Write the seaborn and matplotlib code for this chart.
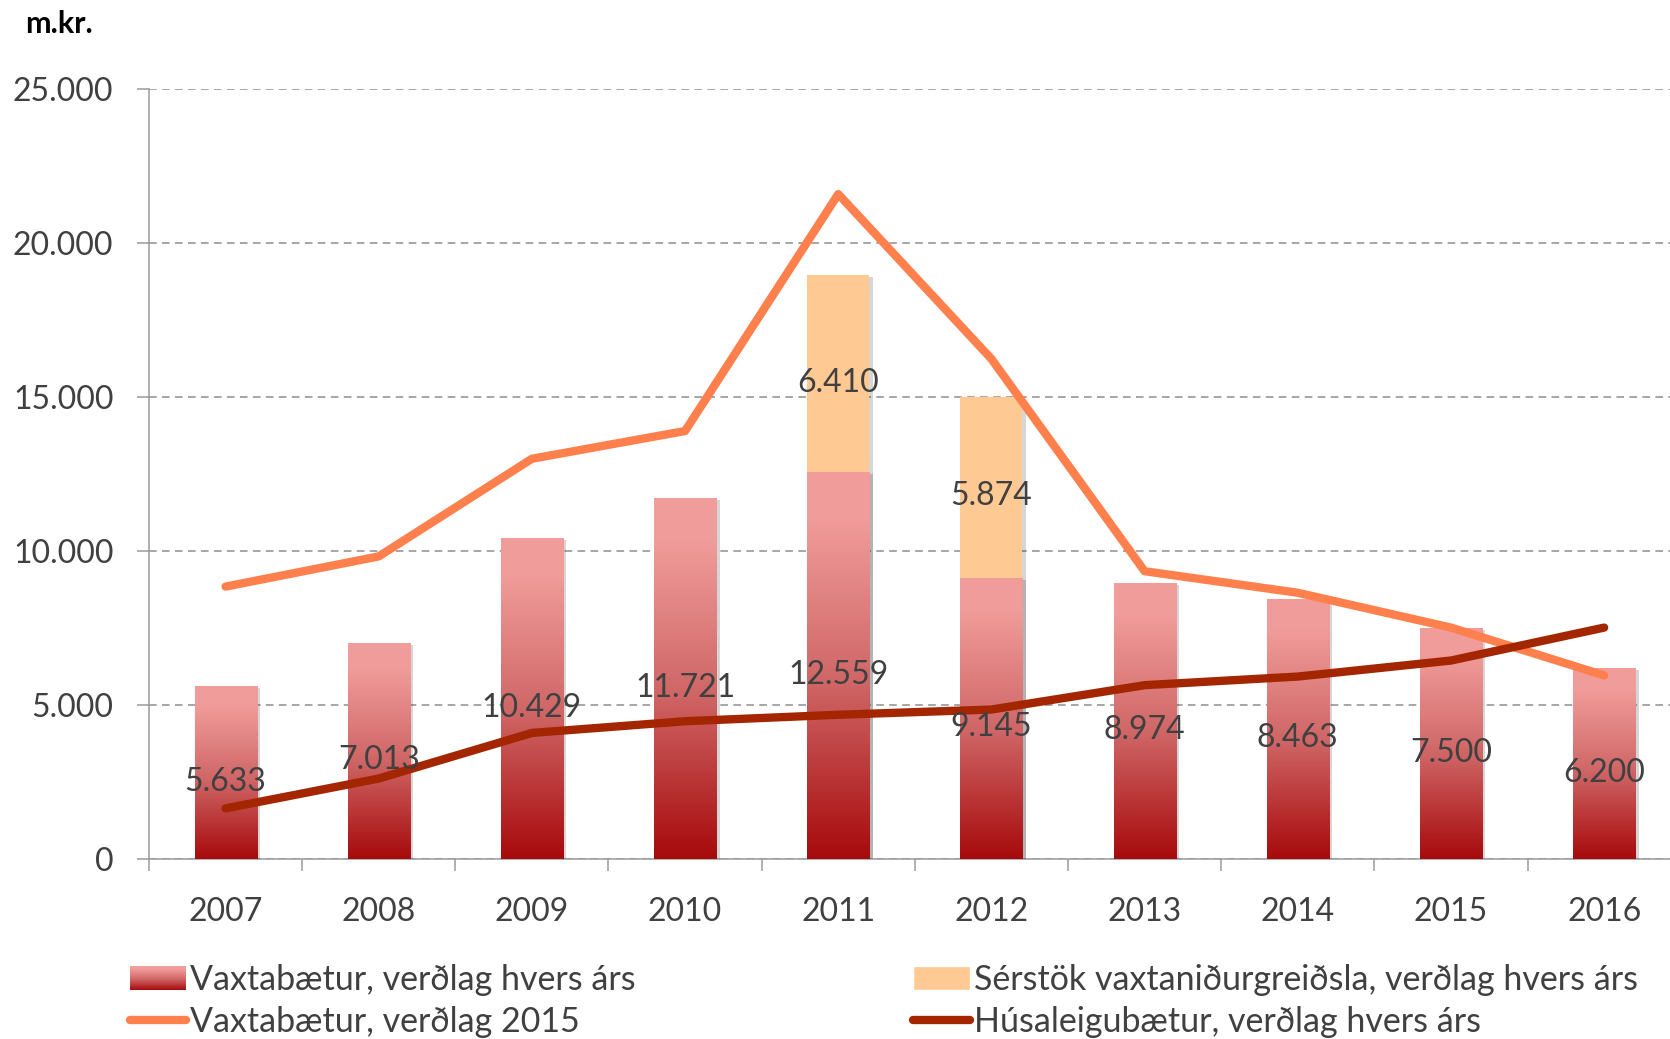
import numpy as np
import pandas as pd
import matplotlib
matplotlib.use("Agg")
import matplotlib.pyplot as plt
import matplotlib.patheffects as pe
import seaborn as sns
from matplotlib.colors import LinearSegmentedColormap
from matplotlib.legend_handler import HandlerBase
from matplotlib.patches import Rectangle, Patch
from matplotlib.lines import Line2D
from matplotlib.ticker import FuncFormatter, FixedLocator

# ---- data (m.kr.) ----
years = ["2007", "2008", "2009", "2010", "2011", "2012", "2013", "2014", "2015", "2016"]
vaxtabaetur = [5633, 7013, 10429, 11721, 12559, 9145, 8974, 8463, 7500, 6200]
serstok = [0, 0, 0, 0, 6410, 5874, 0, 0, 0, 0]
vaxtabaetur_2015 = [8850, 9830, 13000, 13900, 21590, 16240, 9350, 8650, 7520, 5970]
husaleigubaetur = [1650, 2620, 4100, 4480, 4690, 4860, 5650, 5930, 6450, 7520]

label_bar = "Vaxtabætur, verðlag hvers árs"
label_extra = "Sérstök vaxtaniðurgreiðsla, verðlag hvers árs"
label_2015 = "Vaxtabætur, verðlag 2015"
label_husa = "Húsaleigubætur, verðlag hvers árs"

# ---- style ----
sns.set_theme(style="white")
plt.rcParams["font.family"] = ["Lato", "DejaVu Sans"]
TXT = "#404040"
GRID = "#8e8e8e"
PEACH = "#FFC994"
ORANGE = "#FF7F4D"
DARKRED = "#A32600"
bar_cmap = LinearSegmentedColormap.from_list(
    "bar", [(0.0, "#A70A0C"), (0.45, "#CF6565"), (0.88, "#F09C9A"), (1.0, "#F19D9B")])

FS = 23
LFS = 24.5

fig = plt.figure(figsize=(16.7, 10.39), dpi=100)
ax = fig.add_axes([0.0892, 0.173, 1 - 0.0892, 0.9143 - 0.173])

df = pd.DataFrame({
    "year": years,
    "base": vaxtabaetur,
    "total": np.add(vaxtabaetur, serstok),
})

BW = 0.405
sns.barplot(data=df, x="year", y="total", color=PEACH, saturation=1,
            width=BW, errorbar=None, ax=ax, zorder=2, linewidth=0)
n = len(years)
extra_patches = ax.patches[:n]
sns.barplot(data=df, x="year", y="base", color="#F09C9A", saturation=1,
            width=BW, errorbar=None, ax=ax, zorder=3, linewidth=0)
base_patches = ax.patches[n:2 * n]

shadow = [pe.SimplePatchShadow(offset=(2.5, -1.5), shadow_rgbFace="#000000", alpha=0.16),
          pe.Normal()]
for p, s in zip(extra_patches, serstok):
    if s > 0:
        p.set_path_effects(shadow)

# vertical gradient fill inside each base bar
grad = np.linspace(1, 0, 256).reshape(-1, 1)
for p in base_patches:
    p.set_path_effects(shadow)
    x0, y0, w, h = p.get_x(), p.get_y(), p.get_width(), p.get_height()
    im = ax.imshow(grad, cmap=bar_cmap, vmin=0, vmax=1,
                   extent=[x0, x0 + w, y0, y0 + h], aspect="auto",
                   origin="upper", zorder=3.1, interpolation="bicubic")
    im.set_clip_path(p)

xpos = np.arange(n)
sns.lineplot(x=xpos, y=vaxtabaetur_2015, color=ORANGE, linewidth=6, ax=ax,
             zorder=4, solid_capstyle="round", solid_joinstyle="round")
sns.lineplot(x=xpos, y=husaleigubaetur, color=DARKRED, linewidth=6, ax=ax,
             zorder=5, solid_capstyle="round", solid_joinstyle="round")


def fmt(v):
    return f"{int(v):,}".replace(",", ".")


def value_label(x, y, v):
    ax.annotate(fmt(v), (x, y), xytext=(0, -6.5), textcoords="offset points",
                ha="center", va="center", fontsize=FS, color=TXT, zorder=6)


for i, (b, s) in enumerate(zip(vaxtabaetur, serstok)):
    value_label(i, b / 2, b)
    if s > 0:
        value_label(i, b + s / 2, s)

# ---- axes ----
ax.set_xlim(-0.5, 9.43)
ax.set_ylim(0, 25000)
ax.set_yticks(np.arange(0, 25001, 5000))
ax.yaxis.set_major_formatter(FuncFormatter(lambda v, _: fmt(v)))
ax.set_xticks(xpos)
ax.set_xticklabels(years)
ax.xaxis.set_minor_locator(FixedLocator(np.arange(-0.5, 9.6, 1.0)))
ax.set_xlabel("")
ax.set_ylabel("")

ax.grid(axis="y", color=GRID, linestyle=(0, (5, 3.5)), linewidth=1.1, zorder=0)
ax.grid(axis="x", visible=False)
ax.set_axisbelow(True)

for side in ("top", "right"):
    ax.spines[side].set_visible(False)
for side in ("left", "bottom"):
    ax.spines[side].set_color("#9a9a9a")
    ax.spines[side].set_linewidth(1.1)

ax.tick_params(axis="y", which="major", direction="out", length=8.6, width=1.1,
               color="#9a9a9a", pad=17, labelsize=FS, labelcolor=TXT, left=True)
ax.tick_params(axis="x", which="major", length=0, pad=27, labelsize=FS, labelcolor=TXT)
ax.tick_params(axis="x", which="minor", direction="out", length=8.6, width=1.1,
               color="#9a9a9a", bottom=True)


# ---- legend ----
class GradientHandler(HandlerBase):
    def create_artists(self, legend, orig_handle, xdescent, ydescent,
                       width, height, fontsize, trans):
        arts = []
        k = 24
        for j in range(k):
            arts.append(Rectangle((-xdescent, -ydescent + height * j / k), width,
                                  height / k + 0.3, facecolor=bar_cmap((j + 0.5) / k),
                                  edgecolor="none", transform=trans))
        return arts


bar_handle = Patch(facecolor="#D06868", label=label_bar)
extra_handle = Patch(facecolor=PEACH, label=label_extra)
h2015 = Line2D([], [], color=ORANGE, linewidth=6, solid_capstyle="round", label=label_2015)
hhusa = Line2D([], [], color=DARKRED, linewidth=6, solid_capstyle="round", label=label_husa)

common = dict(loc="center left", frameon=False, fontsize=LFS, labelcolor=TXT,
              borderpad=0, borderaxespad=0, handlelength=1.65, handleheight=0.7,
              handletextpad=0.13, labelspacing=0.28)
leg1 = fig.legend(handles=[bar_handle, h2015], bbox_to_anchor=(0.0778, 0.0365),
                  handler_map={bar_handle: GradientHandler()}, **common)
leg2 = fig.legend(handles=[extra_handle, hhusa], bbox_to_anchor=(0.547, 0.0365), **common)

fig.text(25 / 1670, 1 - 24 / 1039, "m.kr.", fontsize=22, fontweight="bold",
         color="#000000", ha="left", va="center")

fig.savefig("out.png", dpi=100)
